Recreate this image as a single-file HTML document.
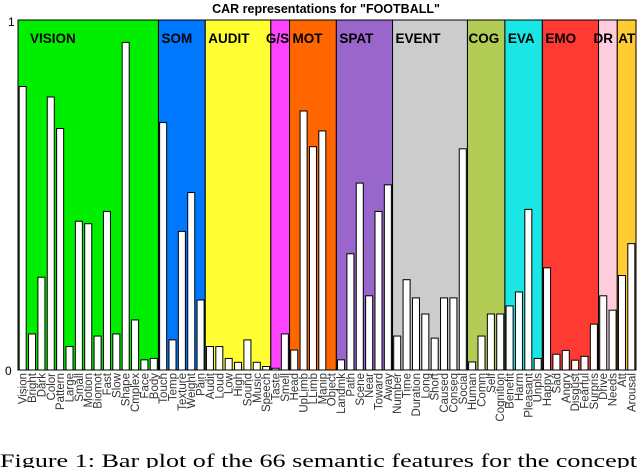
<!DOCTYPE html>
<html><head><meta charset="utf-8"><style>
html,body{margin:0;padding:0;background:#fff;width:640px;height:468px;overflow:hidden}
svg{display:block}
</style></head><body>
<svg id="chart" width="640" height="468" xmlns="http://www.w3.org/2000/svg">
<text x="326" y="13" text-anchor="middle" font-family="Liberation Sans, sans-serif" font-weight="bold" font-size="12.5">CAR representations for "FOOTBALL"</text>
<g id="sections"></g>
<g id="bars"></g>
<g id="labels"></g>
<rect x="18" y="20" width="618" height="350" fill="none" stroke="#000" stroke-width="1"/>
<text x="8" y="26" font-family="Liberation Sans, sans-serif" font-size="12">1</text>
<text x="5" y="375" font-family="Liberation Sans, sans-serif" font-size="12">0</text>
<text x="0" y="467" font-family="Liberation Serif, serif" font-size="19" textLength="637" lengthAdjust="spacingAndGlyphs">Figure 1: Bar plot of the 66 semantic features for the concept</text>
</svg>
<script>
const categories = ["Vision","Bright","Dark","Color","Pattern","Large","Small","Motion","Biomot","Fast","Slow","Shape","Cmplex","Face","Body","Touch","Temp","Texture","Weight","Pain","Audit","Loud","Low","High","Sound","Music","Speech","Taste","Smell","Head","UpLimb","LLimb","Manip","Object","Landmk","Path","Scene","Near","Toward","Away","Number","Time","Duration","Long","Short","Caused","Conseq","Social","Human","Comm","Self","Cognition","Benefit","Harm","Pleasant","Unpls","Happy","Sad","Angry","Disgust","Fearful","Surpris","Drive","Needs","Att","Arousal"];
const values = [0.81,0.103,0.265,0.78,0.69,0.067,0.425,0.418,0.097,0.453,0.103,0.936,0.143,0.029,0.033,0.707,0.086,0.396,0.507,0.2,0.067,0.067,0.033,0.022,0.086,0.022,0.01,0.005,0.103,0.057,0.74,0.638,0.683,0,0.029,0.332,0.534,0.212,0.453,0.529,0.097,0.258,0.206,0.16,0.091,0.206,0.206,0.632,0.023,0.097,0.16,0.16,0.183,0.223,0.459,0.033,0.292,0.045,0.056,0.028,0.039,0.131,0.212,0.171,0.27,0.361];
const sectionNames = ["VISION","SOM","AUDIT","G/S","MOT","SPAT","EVENT","COG","EVA","EMO","DR","AT"];
const sectionSizes = [15,5,7,2,5,6,8,4,4,6,2,2];
const sectionColors = ["#00ee00","#0077ff","#ffff33","#ff44ff","#ff6600","#9966cc","#cccccc","#b3cc55","#1ae6e6","#ff3a33","#ffccdd","#ffcc33"];
const labelOffsets = [12,3,3,-5,3,3,3,1,3,3,-5,1];

const NS="http://www.w3.org/2000/svg";
const X0=18, X1=636, Y0=370, Y1=20;
const n=categories.length, slot=(X1-X0)/n;
const xPos=i=>X0+i*slot;
const yPos=v=>Y0-(Y0-Y1)*v;
function mk(t,a){const e=document.createElementNS(NS,t);for(const k in a)e.setAttribute(k,a[k]);return e;}
const gS=document.getElementById('sections'),gB=document.getElementById('bars'),gL=document.getElementById('labels');
let start=0;
const labelEls=[];
sectionNames.forEach((name,s)=>{
  const x=xPos(start), w=sectionSizes[s]*slot;
  const r=mk('rect',{x:x,y:yPos(1),width:w,height:yPos(0)-yPos(1),fill:sectionColors[s],stroke:'#000','stroke-width':1});
  
  
  gS.appendChild(r);
  const t=mk('text',{x:x+labelOffsets[s],y:43,'font-family':'Liberation Sans, sans-serif','font-weight':'bold','font-size':13.5});
  t.textContent=name;
  
  
  labelEls.push(t);
  start+=sectionSizes[s];
});
labelEls.forEach(t=>gS.appendChild(t));
values.forEach((v,i)=>{
  const bw=slot*0.75, x=xPos(i)+(slot-bw)/2;
  if(v>0){
    const r=mk('rect',{x:x,y:yPos(v),width:bw,height:yPos(0)-yPos(v),fill:'#fff',stroke:'#000','stroke-width':1});
    
    
    gB.appendChild(r);
  }
  const cx=xPos(i)+slot/2+4;
  const t=mk('text',{x:cx,y:373,transform:'rotate(-90 '+cx+' 373)','text-anchor':'end','font-family':'Liberation Sans, sans-serif','font-size':11.5,fill:'#333'});
  t.textContent=categories[i];
  
  
  gL.appendChild(t);
});
</script>
</body></html>
